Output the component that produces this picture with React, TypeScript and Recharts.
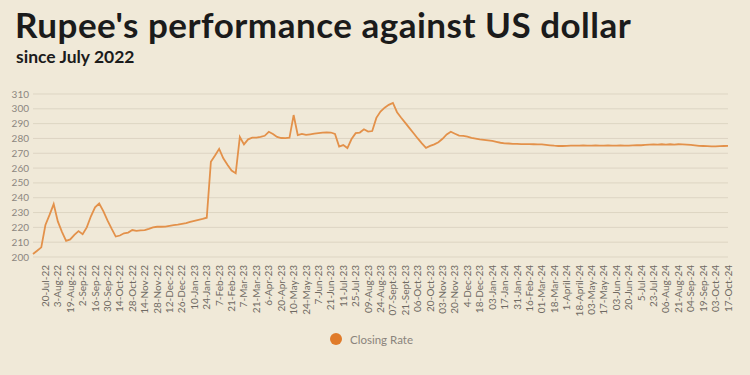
import { LineChart, Line, XAxis, YAxis, CartesianGrid, Legend } from "recharts";

document.body.style.margin = "0";

// date labels shown under the axis, one every 3 readings
const dateLabels = [
  "20-Jul-22", "3-Aug-22", "19-Aug-22", "2-Sep-22", "16-Sep-22", "30-Sep-22",
  "14-Oct-22", "28-Oct-22", "14-Nov-22", "28-Nov-22", "12-Dec-22", "26-Dec-22",
  "10-Jan-23", "24-Jan-23", "7-Feb-23", "21-Feb-23", "7-Mar-23", "21-Mar-23",
  "6-Apr-23", "20-Apr-23", "10-May-23", "24-May-23", "7-Jun-23", "21-Jun-23",
  "11-Jul-23", "25-Jul-23", "09-Aug-23", "24-Aug-23", "07-Sept-23", "21-Sept-23",
  "06-Oct-23", "20-Oct-23", "03-Nov-23", "20-Nov-23", "4-Dec-23", "18-Dec-23",
  "03-Jan-24", "17-Jan-24", "31-Jan-24", "16-Feb-24", "01-Mar-24", "18-Mar-24",
  "1-April-24", "18-April-24", "03-May-24", "17-May-24", "03-Jun-24", "20-Jun-24",
  "5-Jul-24", "23-Jul-24", "06-Aug-24", "21-Aug-24", "04-Sep-24", "19-Sep-24",
  "03-Oct-24", "17-Oct-24",
];

const rate2022 = [
  202, 204.2, 206.5, 221.6, 228.4, 235.7, 224, 217, 210.9, 211.9, 215, 217.5,
  215.4, 220, 227.5, 233.5, 236.1, 231, 224.7, 219.1, 213.8, 214.5, 216, 216.5,
  218.2, 217.6, 217.9, 218.2, 219, 220, 220.4, 220.4, 220.5, 221, 221.5, 221.9,
  222.4, 222.9, 223.7,
];

const rate2023 = [
  224.4, 225.1, 225.7, 226.5, 264.3, 268.5, 273, 266.6, 262.3, 258.3, 256.5, 281,
  276, 279.4, 280.5, 280.5, 281, 281.8, 284.5, 283, 281, 280.3, 280.2, 280.5,
  295.8, 282.3, 283.1, 282.4, 282.8, 283.2, 283.6, 284, 284.1, 284, 283, 274.5,
  275.5, 273.5, 279.6, 283.6, 284, 286.2, 284.6, 285, 293.9, 298.2, 300.8, 302.7,
  304, 297.7, 294, 290.5, 287, 283.5, 280, 276.7, 273.7, 275, 276, 277.4,
  279.8, 282.7, 284.5, 283.2, 281.9, 281.7, 281.2, 280.4, 279.9, 279.4, 279.1, 278.7,
];

const rate2024 = [
  278.3, 277.7, 277.1, 276.7, 276.6, 276.4, 276.3, 276.2, 276.2, 276.2, 276.1, 276,
  276, 275.7, 275.4, 275.1, 274.9, 274.9, 275, 275.1, 275.2, 275.1, 275.3, 275.2,
  275.2, 275.3, 275.2, 275.2, 275.3, 275.2, 275.2, 275.3, 275.2, 275.2, 275.3, 275.4,
  275.4, 275.6, 275.8, 276, 275.8, 276.1, 275.9, 276.1, 275.8, 276.1, 276, 275.9,
  275.6, 275.3, 275, 274.9, 274.8, 274.6, 274.7, 274.8, 274.9, 275,
];

const yTicks = [200, 210, 220, 230, 240, 250, 260, 270, 280, 290, 300, 310];

const STEP = 3;
const allRates = [...rate2022, ...rate2023, ...rate2024];
const data = allRates.map((rate, i) => ({ i, rate }));
const xTicks = dateLabels.map((_, k) => (k + 1) * STEP);

const BG = "#F0E9D8";
const LINE = "#E3914A";

function DateTick({ x, y, payload }: any) {
  const label = dateLabels[payload.value / STEP - 1] ?? "";
  return (
    <text
      x={x}
      y={y}
      transform={`rotate(-90, ${x}, ${y})`}
      textAnchor="end"
      dy="0.35em"
      fontSize={10}
      fill="#6f6a63"
      fontFamily="Lato, sans-serif"
    >
      {label}
    </text>
  );
}

function LegendContent() {
  return (
    <div
      style={{
        display: "flex",
        justifyContent: "center",
        alignItems: "center",
        height: 18,
        paddingLeft: 2,
        fontFamily: "Lato, sans-serif",
        fontSize: 11.5,
        color: "#8a847c",
      }}
    >
      <span
        style={{
          width: 12,
          height: 12,
          borderRadius: "50%",
          background: "#E07B2A",
          marginRight: 8,
        }}
      />
      Closing Rate
    </div>
  );
}

export default function App() {
  return (
    <div style={{ position: "relative", width: 750, height: 375, background: BG }}>
      <div
        style={{
          position: "absolute",
          left: 15,
          top: 3,
          fontFamily: "Lato, sans-serif",
          fontWeight: 700,
          fontSize: 35,
          color: "#1b1b1b",
          letterSpacing: 0.5,
          whiteSpace: "nowrap",
        }}
      >
        Rupee's performance against US dollar
      </div>
      <div
        style={{
          position: "absolute",
          left: 16,
          top: 46,
          fontFamily: "Lato, sans-serif",
          fontWeight: 700,
          fontSize: 17.5,
          color: "#1b1b1b",
          whiteSpace: "nowrap",
        }}
      >
        since July 2022
      </div>
      <LineChart
        width={750}
        height={375}
        data={data}
        margin={{ top: 94, right: 22, bottom: 27, left: 13 }}
      >
        <CartesianGrid horizontal vertical={false} stroke="#DDD5C3" strokeWidth={1} />
        <XAxis
          type="number"
          dataKey="i"
          domain={[0, allRates.length - 1]}
          ticks={xTicks}
          interval={0}
          tick={<DateTick />}
          tickLine={false}
          axisLine={false}
          height={73}
        />
        <YAxis
          type="number"
          domain={[200, 310]}
          ticks={yTicks}
          interval={0}
          tick={{ fontSize: 10, fill: "#8c8680", fontFamily: "Lato, sans-serif" }}
          tickLine={false}
          axisLine={false}
          tickSize={4}
          tickMargin={0}
          width={20}
        />
        <Legend verticalAlign="bottom" height={18} content={<LegendContent />} />
        <Line
          type="linear"
          dataKey="rate"
          name="Closing Rate"
          stroke={LINE}
          strokeWidth={1.8}
          dot={false}
          isAnimationActive={false}
        />
      </LineChart>
    </div>
  );
}
